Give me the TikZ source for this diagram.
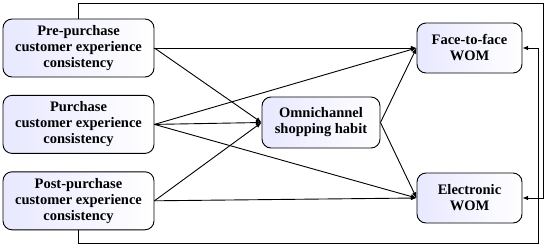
\documentclass[tikz,border=0pt]{standalone}
\usepackage{fontspec}
\setmainfont{Liberation Serif}
\usetikzlibrary{positioning, calc, arrows.meta}

\begin{document}
\begin{tikzpicture}[
  x=1pt, y=-1pt,
  >={Latex[length=2mm, width=1.6mm]}, line width=0.9pt,
  box/.style = {draw, rounded corners=9pt, left color=blue!9, right color=white,
                align=center, font=\fontsize{14.5}{16}\selectfont\bfseries,
                inner sep=2pt},
  srcbox/.style = {box, minimum width=151pt, minimum height=58pt},
  outbox/.style = {box, minimum width=105pt, minimum height=50pt},
]
  \useasboundingbox (0,0) rectangle (550,247);

  \node[srcbox]                   (pre)  at (78.5,48) {Pre-purchase\\customer experience\\consistency};
  \node[srcbox, below=17.5pt of pre] (pur)  {Purchase\\customer experience\\consistency};
  \node[srcbox, below=17.5pt of pur] (post) {Post-purchase\\customer experience\\consistency};

  \node[box, minimum width=118pt, minimum height=51pt] (omni) at (321,122.5) {Omnichannel\\shopping habit};
  \node[outbox] (fwom) at (469.5,48)  {Face-to-face\\WOM};
  \node[outbox] (ewom) at (469.5,198) {Electronic\\WOM};

  \draw[->] (pre.east)  -- (fwom.west);
  \draw[->] (pre.east)  -- (omni.west);
  \draw[->] (pur.east)  -- (fwom.west);
  \draw[->] (pur.east)  -- (omni.west);
  \draw[->] (pur.east)  -- (ewom.west);
  \draw[->] (post.east) -- (omni.west);
  \draw[->] (post.east) -- (ewom.west);
  \draw[->] (omni.east) -- (fwom.west);
  \draw[->] (omni.east) -- (ewom.west);

  % outer feedback paths
  \coordinate (topr) at (543,3);
  \coordinate (botr) at (538,243);
  \draw[->] (pre.north)  |- (topr) |- (ewom.east);
  \draw[->] (post.south) |- (botr) |- (fwom.east);
\end{tikzpicture}
\end{document}
